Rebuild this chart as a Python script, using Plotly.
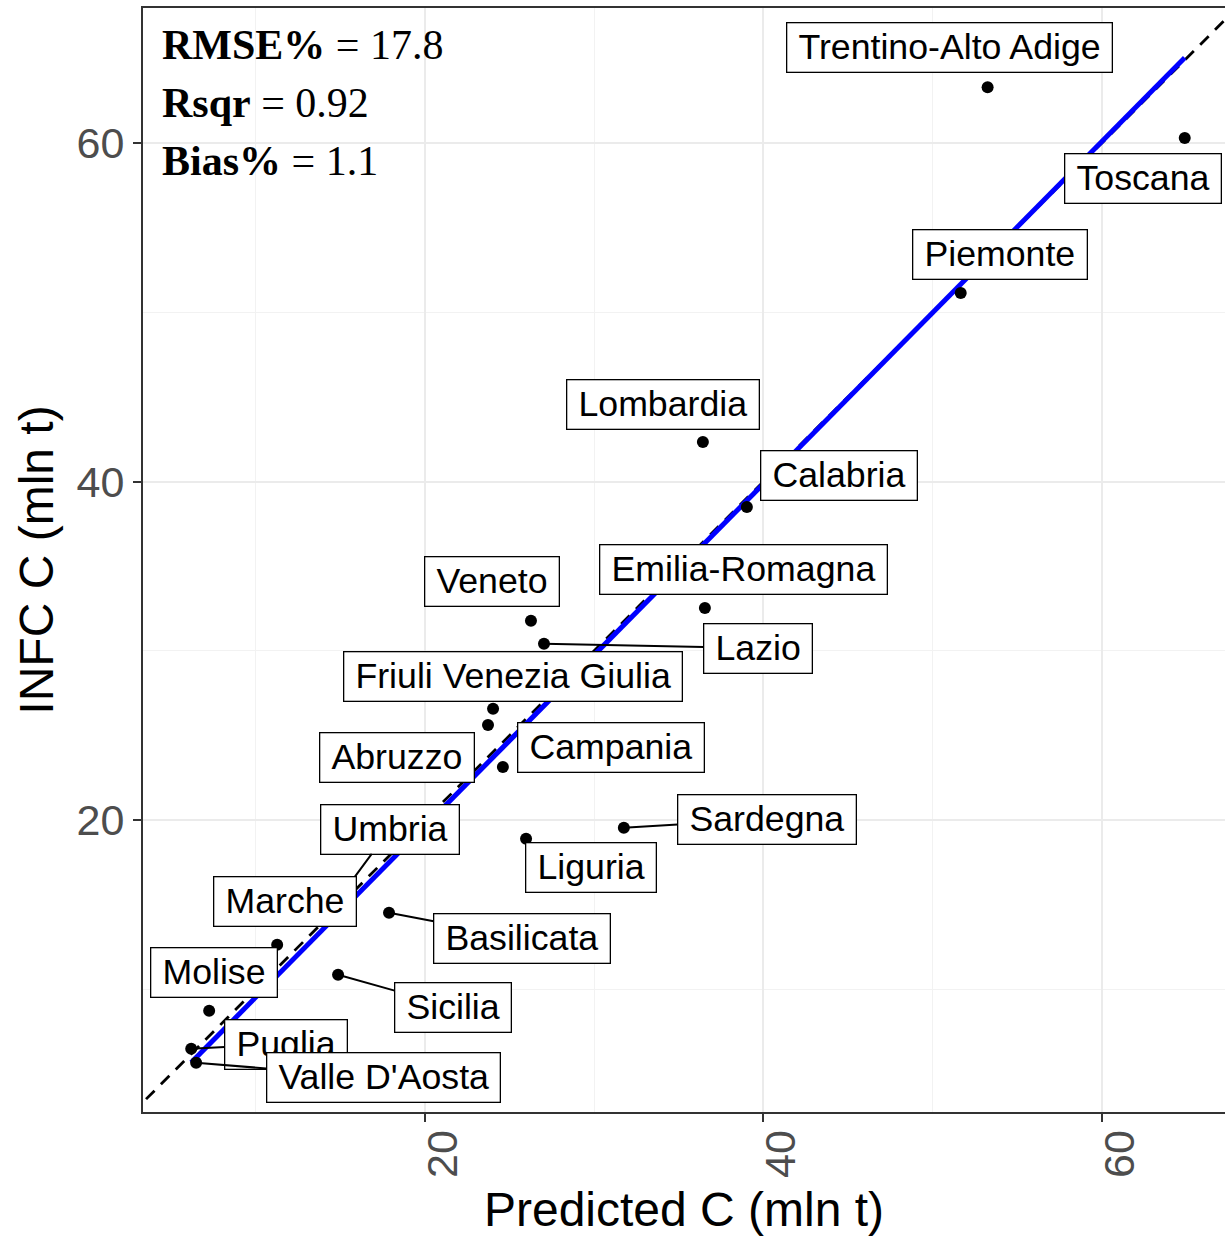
import numpy as np
import plotly.graph_objects as go

# ---- data ----
regions = ["Trentino-Alto Adige", "Toscana", "Piemonte", "Lombardia", "Calabria",
           "Emilia-Romagna", "Veneto", "Lazio", "Friuli Venezia Giulia", "Abruzzo",
           "Campania", "Liguria", "Sardegna", "Umbria", "Basilicata", "Marche",
           "Sicilia", "Molise", "Puglia", "Valle D'Aosta"]
predicted = [53.25, 64.9, 51.66, 36.42, 39.02,
             36.54, 26.26, 27.03, 24.02, 23.72,
             24.6, 25.97, 31.75, 15.3, 17.87, 11.26,
             14.86, 7.24, 6.18, 6.47]
infc = [63.3, 60.3, 51.14, 42.34, 38.5,
        32.53, 31.77, 30.41, 26.57, 25.62,
        23.14, 18.89, 19.54, 15.9, 14.52, 12.63,
        10.86, 8.73, 6.49, 5.66]
stats_names = ["RMSE%", "Rsqr", "Bias%"]
stats_values = ["17.8", "0.92", "1.1"]

# ---- label placement (repelled label centres, data units) ----
label_x = [50.97, 62.43, 53.98, 34.07, 44.47,
           38.85, 23.96, 39.68, 25.2, 18.35,
           30.99, 29.81, 40.21, 17.93, 25.73, 11.73,
           21.65, 7.53, 11.78, 17.52]
label_y = [65.67, 57.93, 53.44, 44.58, 40.38,
           34.83, 34.12, 30.16, 28.51, 23.72,
           24.31, 17.22, 20.06, 19.47, 13.03, 15.21,
           8.95, 11.02, 6.76, 4.76]
with_segment = {"Lazio", "Sardegna", "Umbria", "Basilicata", "Sicilia", "Puglia", "Valle D'Aosta"}

XR = [3.33, 67.28]
YR = [2.75, 67.98]

fig = go.Figure()

# 1:1 line
fig.add_trace(go.Scatter(x=[0, 70], y=[0, 70], mode="lines",
                         line=dict(color="black", width=2.8, dash="12px,9px"),
                         hoverinfo="skip", showlegend=False))

# linear fit
px_ = np.array(predicted)
py_ = np.array(infc)
slope, intercept = np.polyfit(px_, py_, 1)
fx = np.array([px_.min(), px_.max()])
fig.add_trace(go.Scatter(x=fx, y=slope * fx + intercept, mode="lines",
                         line=dict(color="#0000FF", width=5),
                         hoverinfo="skip", showlegend=False))

# points
fig.add_trace(go.Scatter(x=predicted, y=infc, mode="markers",
                         marker=dict(color="black", size=12),
                         text=regions, showlegend=False))

annotations = []
order = [i for i in range(len(regions)) if regions[i] in with_segment] + \
        [i for i in range(len(regions)) if regions[i] not in with_segment]
lab_font = dict(family="Liberation Sans, Arial, sans-serif", size=35.7, color="black")
for i in order:
    name = regions[i]
    txt = "\u2009" + name + "\u2009"
    common = dict(text=txt, font=lab_font, bgcolor="white", bordercolor="black",
                  borderwidth=1.3, borderpad=4)
    if name in with_segment:
        annotations.append(dict(x=predicted[i], y=infc[i], xref="x", yref="y",
                                ax=label_x[i], ay=label_y[i], axref="x", ayref="y",
                                showarrow=True, arrowhead=0, arrowwidth=2,
                                arrowcolor="black", standoff=0, **common))
    else:
        annotations.append(dict(x=label_x[i], y=label_y[i], xref="x", yref="y",
                                showarrow=False, **common))

# stats text
stat_y = [0.9665, 0.914, 0.8614]
for n, v, yy in zip(stats_names, stats_values, stat_y):
    annotations.append(dict(text="<b>" + n + "</b> = " + v, x=0.016, y=yy,
                            xref="paper", yref="paper", xanchor="left", yanchor="middle",
                            showarrow=False,
                            font=dict(family="Liberation Serif, Times New Roman, serif",
                                      size=42, color="black")))

axis_common = dict(
    dtick=20, tick0=0, ticks="outside", ticklen=8, tickwidth=2, tickcolor="#333333",
    showgrid=True, gridcolor="#EBEBEB", gridwidth=2.4, zeroline=False,
    showline=True, linecolor="#333333", linewidth=2,
    tickfont=dict(family="Liberation Sans, Arial, sans-serif", size=43, color="#4D4D4D"),
    minor=dict(dtick=10, tick0=0, showgrid=True, gridcolor="#F2F2F2", gridwidth=1.3),
)

fig.update_layout(
    width=1225, height=1236,
    margin=dict(l=143, r=0, t=8, b=124),
    paper_bgcolor="white", plot_bgcolor="white",
    showlegend=False,
    annotations=annotations,
    xaxis=dict(range=XR, mirror=True, tickangle=-90, ticklabelshift=18,
               ticklabelstandoff=-9,
               title=dict(text="Predicted C (mln t)", standoff=17,
                          font=dict(family="Liberation Sans, Arial, sans-serif", size=48, color="black")),
               **axis_common),
    yaxis=dict(range=YR, mirror=False,
               title=dict(text="INFC C (mln t)", standoff=8,
                          font=dict(family="Liberation Sans, Arial, sans-serif", size=48, color="black")),
               **axis_common),
)

fig.write_html("out.html", config={"displayModeBar": False},
               post_script="document.body.style.margin='0';document.body.style.overflow='hidden';")
